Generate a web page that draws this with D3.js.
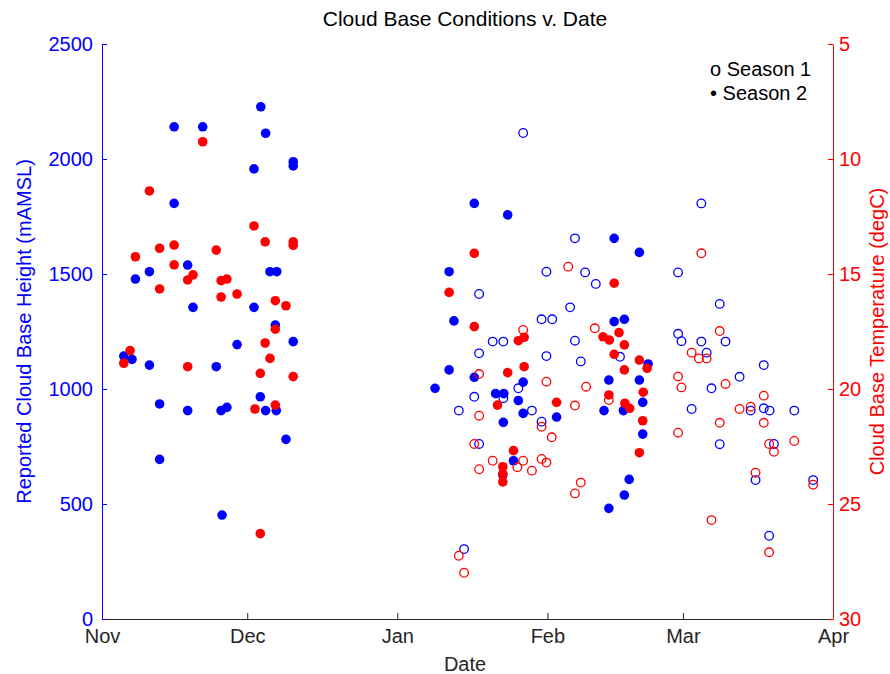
<!DOCTYPE html>
<html>
<head>
<meta charset="utf-8">
<script src="https://cdn.jsdelivr.net/npm/d3@7"></script>
<style>
body { margin: 0; background: #fff; }
svg { font-family: "Liberation Sans", Arial, sans-serif; }
</style>
</head>
<body>
<svg id="chart" width="890" height="674"></svg>
<script>
// observations: [days after Nov 1, value]
var season1Height = [
  [73.7,906],[74.8,304],[76.9,966],[77.9,1413],[77.9,1155],[77.9,761],[80.7,1206],[82.9,1206],[82.9,960],
  [86.0,1003],[87.0,2113],[88.8,906],[90.8,1303],[90.8,858],[91.8,1510],[91.8,1143],[93.0,1303],[96.7,1355],
  [97.7,1655],[97.7,1210],[98.9,1120],[99.8,1507],[102.0,1457],[107.0,1140],
  [119.0,1507],[119.0,1240],[119.7,1208],[121.8,913],[123.8,1807],[123.8,1206],[124.9,1158],[125.9,1003],
  [127.6,1370],[127.6,760],[128.8,1206],[131.7,1053],[134.0,906],[135.0,604],[136.7,1104],[136.7,916],
  [137.8,362],[137.9,906],[138.8,761],[143.0,906],[146.9,604]
];
var season1Temp = [
  [73.7,27.25],[74.8,27.99],[76.9,22.39],[77.9,19.35],[77.9,21.16],[77.9,23.49],[80.7,23.12],[85.8,23.4],
  [87.0,17.43],[87.0,23.12],[88.8,23.55],[90.8,21.64],[90.8,23.04],[91.8,19.68],[91.8,23.2],[92.9,22.1],
  [96.3,14.68],[97.7,20.72],[97.7,24.54],[98.9,24.07],[100.0,19.9],[101.8,17.36],[104.7,20.48],
  [119.0,19.46],[119.0,21.9],[119.7,19.93],[121.8,18.42],[123.3,18.67],[123.8,14.1],[124.9,18.67],[125.9,25.7],
  [127.6,17.48],[127.6,21.47],[128.8,19.78],[131.7,20.87],[134.0,20.77],[135.0,23.64],[136.7,20.29],
  [136.7,21.47],[137.8,22.39],[137.8,27.1],[138.8,22.73],[143.0,22.26],[146.9,24.16]
];
var season2Height = [
  [4.5,1143],[6.2,1129],[6.9,1478],[9.8,1510],[9.8,1104],[11.9,935],[11.9,694],[14.9,2140],[14.9,1807],
  [17.7,1539],[17.7,906],[18.8,1355],[20.8,2140],[23.6,1097],[24.6,906],[24.8,452],[25.8,920],[27.9,1193],
  [31.4,1957],[31.4,1355],[32.7,966],[32.8,2227],[33.8,2112],[33.8,906],[34.7,1510],[35.8,1278],[36.0,906],
  [36.1,1510],[38.0,781],[39.5,1988],[39.5,1970],[39.5,1206],
  [68.8,1003],[71.7,1510],[71.7,1083],[72.7,1296],[76.9,1807],[76.9,1051],[81.3,980],[83.0,980],[82.8,626],
  [82.9,855],[83.8,1757],[85.0,688],[86.0,950],[87.0,1030],[87.0,894],[93.9,878],
  [103.7,906],[104.7,1039],[104.7,481],[105.8,1655],[105.8,1293],[107.7,906],[107.9,1303],[107.9,539],
  [108.9,607],[111.0,1594],[111.0,1039],[111.7,942],[111.7,804],[112.8,1109]
];
var season2Temp = [
  [4.5,18.88],[5.8,18.33],[6.9,14.25],[9.8,11.39],[11.9,13.88],[11.9,15.65],[14.9,13.74],[14.9,14.6],
  [17.7,15.26],[17.7,19.03],[18.8,15.04],[20.8,9.25],[23.6,13.96],[24.6,15.29],[24.6,16.0],[25.8,15.22],
  [27.9,15.87],[31.4,12.91],[31.6,20.87],[32.7,19.32],[32.7,26.29],[33.7,13.6],[33.7,18.0],[34.7,18.67],
  [35.8,16.16],[35.8,17.4],[35.8,20.7],[38.0,16.38],[39.5,13.6],[39.5,13.75],[39.5,19.46],
  [71.7,15.8],[76.9,14.1],[76.9,17.29],[81.7,20.7],[82.8,23.38],[82.8,23.69],[82.8,24.04],[83.8,19.29],
  [85.0,22.68],[86.0,17.9],[87.2,17.75],[87.2,19.03],[93.9,20.58],
  [103.5,17.73],[104.7,20.26],[104.8,17.87],[105.8,15.4],[105.8,18.49],[106.8,17.55],[107.9,18.08],
  [107.9,19.17],[108.0,20.62],[109.0,20.84],[111.0,18.74],[111.0,22.77],[111.7,21.38],[111.8,20.14],[112.6,19.1]
];

var monthLabels = ["Nov", "Dec", "Jan", "Feb", "Mar", "Apr"];
var heightTicks = [0, 500, 1000, 1500, 2000, 2500];
var tempTicks = [5, 10, 15, 20, 25, 30];
var legendLabels = ["o Season 1", "\u2022 Season 2"];

var blue = "#0000ff", red = "#ff0000";
var fontSize = "20px";
var start = Date.UTC(2010, 10, 1);
var monthDates = monthLabels.map(function (m, i) { return new Date(Date.UTC(2010, 10 + i, 1)); });
function toDate(day) { return new Date(start + day * 864e5); }

var svg = d3.select("#chart"),
    margin = {top: 44, right: 57, bottom: 55, left: 102},
    width = 890 - margin.left - margin.right,
    height = 674 - margin.top - margin.bottom,
    g = svg.append("g").attr("transform", "translate(" + margin.left + "," + margin.top + ")");

var x = d3.scaleUtc()
  .domain([monthDates[0], monthDates[monthDates.length - 1]])
  .range([0, width]);

var yH = d3.scaleLinear().domain([0, 2500]).range([height, 0]);
var yT = d3.scaleLinear().domain([5, 30]).range([0, height]);

// axes, ticks pointing inward like matlab
var xAxis = d3.axisBottom(x)
  .tickValues(monthDates)
  .tickFormat(function (d, i) { return monthLabels[i]; })
  .tickSizeInner(-6).tickSizeOuter(0).tickPadding(10);

var yAxisH = d3.axisLeft(yH)
  .tickValues(heightTicks)
  .tickFormat(d3.format("d"))
  .tickSizeInner(-5).tickSizeOuter(0).tickPadding(9);

var yAxisT = d3.axisRight(yT)
  .tickValues(tempTicks)
  .tickFormat(d3.format("d"))
  .tickSizeInner(-5).tickSizeOuter(0).tickPadding(6);

var gx = g.append("g")
  .attr("transform", "translate(0," + height + ")")
  .call(xAxis);
gx.selectAll("path, line").attr("stroke", "#262626");
gx.selectAll("text").attr("fill", "#262626").style("font-size", fontSize);

var gyH = g.append("g").call(yAxisH);
gyH.selectAll("path, line").attr("stroke", blue);
gyH.selectAll("text").attr("fill", blue).style("font-size", fontSize);

var gyT = g.append("g")
  .attr("transform", "translate(" + width + ",0)")
  .call(yAxisT);
gyT.selectAll("path, line").attr("stroke", red);
gyT.selectAll("text").attr("fill", red).style("font-size", fontSize);

// points
function drawOpen(data, yScale, color) {
  g.append("g").selectAll("circle")
    .data(data)
    .enter().append("circle")
    .attr("cx", function (d) { return x(toDate(d[0])); })
    .attr("cy", function (d) { return yScale(d[1]); })
    .attr("r", 4.3)
    .attr("fill", "none")
    .attr("stroke", color)
    .attr("stroke-width", 1.3);
}
function drawFilled(data, yScale, color) {
  g.append("g").selectAll("circle")
    .data(data)
    .enter().append("circle")
    .attr("cx", function (d) { return x(toDate(d[0])); })
    .attr("cy", function (d) { return yScale(d[1]); })
    .attr("r", 4.8)
    .attr("fill", color);
}
drawOpen(season1Height, yH, blue);
drawFilled(season2Height, yH, blue);
drawOpen(season1Temp, yT, red);
drawFilled(season2Temp, yT, red);

// titles
svg.append("text")
  .attr("x", 465)
  .attr("y", 26)
  .attr("text-anchor", "middle")
  .attr("fill", "#000")
  .style("font-size", "21px")
  .text("Cloud Base Conditions v. Date");

svg.append("text")
  .attr("x", 465)
  .attr("y", 671)
  .attr("text-anchor", "middle")
  .attr("fill", "#262626")
  .style("font-size", fontSize)
  .text("Date");

svg.append("text")
  .attr("transform", "translate(31," + (margin.top + height / 2) + ") rotate(-90)")
  .attr("text-anchor", "middle")
  .attr("fill", blue)
  .style("font-size", fontSize)
  .text("Reported Cloud Base Height (mAMSL)");

svg.append("text")
  .attr("transform", "translate(884," + (margin.top + height / 2) + ") rotate(-90)")
  .attr("text-anchor", "middle")
  .attr("fill", red)
  .style("font-size", fontSize)
  .text("Cloud Base Temperature (degC)");

// legend
svg.append("g").selectAll("text")
  .data(legendLabels)
  .enter().append("text")
  .attr("x", 710)
  .attr("y", function (d, i) { return 76 + i * 24; })
  .attr("fill", "#000")
  .style("font-size", fontSize)
  .text(function (d) { return d; });
</script>
</body>
</html>
